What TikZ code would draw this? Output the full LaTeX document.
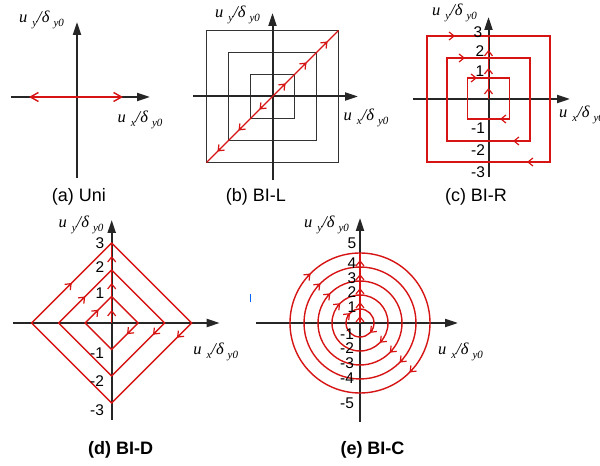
\documentclass[tikz,border=0pt]{standalone}
\usepackage{fontspec}
\setmainfont{Liberation Sans}
\newfontfamily\lbl{Liberation Serif}
\usetikzlibrary{arrows.meta,calc}
\definecolor{rl}{RGB}{215,20,20}
\tikzset{
 axis/.style={line width=2pt, black!85, -{Triangle[length=13pt,width=8pt]}},
 blk/.style={line width=1.5pt, black!80},
 rline/.style={line width=1.4pt, rl},
 midarr/.style={line width=1.2pt, rl, -{Straight Barb[length=5pt,width=8pt]}},
 num/.style={font=\fontsize{15.5}{15.5}\selectfont, inner sep=0pt},
 capt/.style={font=\fontsize{18}{18}\selectfont, inner sep=0pt},
 lab/.style={inner sep=0pt},
}
\newcommand\ulab[1]{{\lbl\itshape\fontsize{16.5}{16.5}\selectfont u\hspace{5pt}\raisebox{-4.5pt}{\fontsize{11}{11}\selectfont #1}/δ\hspace{4pt}\raisebox{-4.5pt}{\fontsize{11}{11}\selectfont y0}}}
\newcommand\marr[2]{\draw[midarr] ($(#1)+(#2+180:4)$) -- (#1);}
\begin{document}
\begin{tikzpicture}[x=1pt,y=1pt]
\fill[white] (0,0) rectangle (600,466);
\useasboundingbox (0,0) rectangle (600,466);
% (a)
\begin{scope}[shift={(77,369)}]
\draw[axis] (0,-81) -- (0,75);
\draw[axis] (-66,0) -- (73,0);
\draw[rline,{Straight Barb[length=8pt,width=9pt]}-{Straight Barb[length=8pt,width=9pt]}] (-48,0) -- (46,0);
\node[lab] (ay) at (-35.5,77) {\ulab{y}};
\node[lab] (ax) at (63,-23) {\ulab{x}};
\node[capt] (ac) at (2,-100) {(a) Uni};
\end{scope}
% (b)
\begin{scope}[shift={(272.5,369.5)}]
\foreach \s in {22,44,66} \draw[blk] (-\s,-\s) rectangle (\s,\s);
\draw[axis] (0,-83.5) -- (0,83.5);
\draw[axis] (-79.5,0) -- (85.5,0);
\draw[rline] (-66,-66) -- (66,66);
\foreach \d in {13,34,55} {\marr{\d,\d}{45} \marr{-\d,-\d}{225}}
\node[lab] (by) at (-35,81.5) {\ulab{y}};
\node[lab] (bx) at (93.5,-21.5) {\ulab{x}};
\node[capt] (bc) at (-16.5,-100.5) {(b) BI-L};
\end{scope}
% (c)
\begin{scope}[shift={(488.5,367)}]
\draw[axis] (0,-78) -- (0,82);
\draw[axis] (-75.5,0) -- (81.5,0);
\draw[rline] (-21,-20) rectangle (21,21);
\draw[rline] (-41.5,-42) rectangle (41.5,41);
\draw[rline] (-61.5,-63) rectangle (61.5,63);
\draw[rline] (0,0) -- (0,63);
\marr{0,11}{90} \marr{0,31}{90} \marr{0,49}{90}
\marr{-33.5,63}{0} \marr{-23.5,41}{0} \marr{-11.5,21}{0}
\marr{11.5,-20}{180} \marr{24.5,-42}{180} \marr{38.5,-63}{180}
\node[num] (c3) at (-10.5,67) {3};
\node[num] (c2) at (-8.5,48) {2};
\node[num] (c1) at (-8.5,28) {1};
\node[num] (cm1) at (-10.5,-29) {-1};
\node[num] (cm2) at (-10.5,-51) {-2};
\node[num] (cm3) at (-10.5,-73) {-3};
\node[lab] (cy) at (-34,86) {\ulab{y}};
\node[lab] (cx) at (93,-16) {\ulab{x}};
\node[capt] (cc) at (-12.5,-98) {(c) BI-R};
\end{scope}
% (d)
\begin{scope}[shift={(111.7,143)}]
\draw[axis] (0,-97) -- (0,103);
\draw[axis] (-98.7,0) -- (108,0);
\foreach \s in {26.5,53,80} \draw[rline] (0,\s) -- (\s,0) -- (0,-\s) -- (-\s,0) -- cycle;
\draw[rline] (0,0) -- (0,80);
\marr{0,13}{90} \marr{0,40}{90} \marr{0,67}{90}
\marr{-13.25,13.25}{45} \marr{-26.5,26.5}{45} \marr{-40,40}{45}
\marr{15.3,-11.2}{225} \marr{41.3,-11.7}{225} \marr{65.3,-14.7}{225}
\node[num] (d3) at (-11.7,80) {3};
\node[num] (d2) at (-11.7,56) {2};
\node[num] (d1) at (-11.7,30) {1};
\node[num] (dm1) at (-14.7,-30) {-1};
\node[num] (dm2) at (-14.7,-58) {-2};
\node[num] (dm3) at (-14.7,-87) {-3};
\node[lab] (dy) at (-30.7,98) {\ulab{y}};
\node[lab] (dx) at (104,-29) {\ulab{x}};
\node[capt,font=\fontsize{18}{18}\selectfont\bfseries] (dc) at (9,-127) {(d) BI-D};
\end{scope}
% (e)
\begin{scope}[shift={(360,143)}]
\draw[axis] (0,-99) -- (0,105);
\draw[axis] (-104,0) -- (98,0);
\foreach \r in {14,28,42,56,70} {\draw[rline] (0,0) circle[radius=\r]; \marr{135:\r}{45} \marr{-45:\r}{225}}
\draw[rline] (0,0) -- (0,70);
\foreach \y in {7,21,35,49,63} {\marr{0,\y}{90}}
\node[num] (e5) at (-8,80) {5};
\node[num] (e4) at (-8,60) {4};
\node[num] (e3) at (-8,45) {3};
\node[num] (e2) at (-8,31) {2};
\node[num] (e1) at (-8,16) {1};
\node[num] (em1) at (-13,-11) {-1};
\node[num] (em2) at (-13,-25) {-2};
\node[num] (em3) at (-13,-40) {-3};
\node[num] (em4) at (-13,-55) {-4};
\node[num] (em5) at (-13,-80) {-5};
\node[lab] (ey) at (-33.5,98) {\ulab{y}};
\node[lab] (ex) at (100.5,-29) {\ulab{x}};
\node[capt,font=\fontsize{18}{18}\selectfont\bfseries] (ec) at (12.5,-127) {(e) BI-C};
\end{scope}
\draw[blue!60!cyan, line width=1pt] (250,172) -- (250,164);
\end{tikzpicture}
\end{document}
